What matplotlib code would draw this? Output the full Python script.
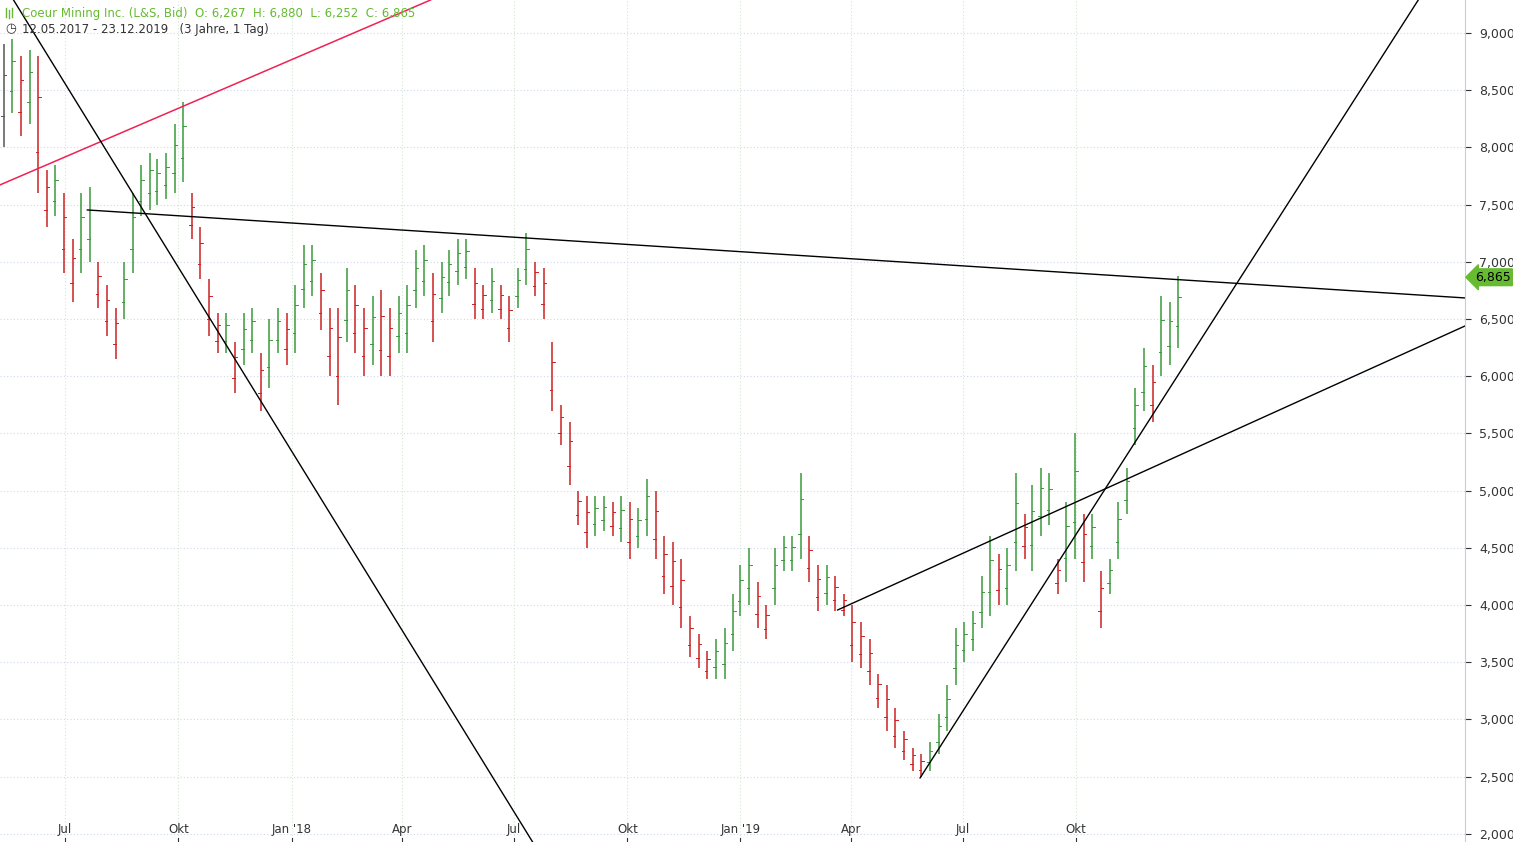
import matplotlib
matplotlib.use("Agg")
import matplotlib.pyplot as plt
import matplotlib.dates as mdates
import numpy as np
from datetime import date, timedelta

highs = [8.9,8.95,8.8,8.85,8.8,7.8,7.85,7.6,7.2,7.6,7.65,7.0,6.8,6.6,7.0,7.6,7.85,7.95,7.9,7.95,8.2,8.4,7.6,7.3,6.85,6.55,6.55,6.3,6.55,6.6,6.2,6.5,6.6,
         6.55,6.8,7.15,7.15,6.9,6.6,6.6,6.95,6.8,6.6,6.7,6.75,6.6,6.7,6.8,7.1,7.15,6.9,7.0,7.1,7.2,7.2,6.95,6.8,6.95,6.8,6.7,6.95,7.25,7.0,6.95,6.3,5.75,5.6,5.0,4.95,4.95,4.95,4.9,4.95,4.9,4.85,5.1,5.0,4.6,4.55,4.4,3.9,3.75,3.6,3.7,3.8,
         4.1,4.35,4.5,4.2,4.0,4.5,4.6,4.6,5.15,4.6,4.35,4.35,4.25,4.1,4.0,3.85,3.7,3.4,3.3,3.1,2.9,2.75,2.7,2.8,3.05,3.3,3.8,3.85,3.95,4.25,4.6,4.45,4.5,5.15,4.8,5.05,5.2,5.15,4.4,4.9,5.5,4.8,4.8,4.3,4.4,4.9,5.2,5.9,6.25,6.1,6.7,6.65,6.88]
lows = [8.0,8.3,8.1,8.2,7.6,7.3,7.4,6.9,6.65,6.9,7.0,6.6,6.35,6.15,6.5,6.9,7.4,7.45,7.5,7.55,7.6,7.7,7.2,6.85,6.35,6.2,6.2,5.85,6.1,6.2,5.7,5.9,6.2,
        6.1,6.2,6.6,6.7,6.4,6.0,5.75,6.3,6.2,6.0,6.1,6.0,6.0,6.2,6.2,6.6,6.7,6.3,6.55,6.7,6.8,6.85,6.5,6.5,6.55,6.5,6.3,6.6,6.8,6.7,6.5,5.7,5.4,5.05,4.7,4.5,4.6,4.65,4.6,4.55,4.4,4.5,4.6,4.4,4.1,4.0,3.8,3.55,3.45,3.35,3.35,3.35,
        3.6,3.9,4.0,3.8,3.7,4.0,4.3,4.3,4.4,4.2,3.95,4.0,3.95,3.9,3.5,3.45,3.3,3.1,2.9,2.75,2.65,2.55,2.5,2.55,2.7,2.9,3.3,3.5,3.6,3.8,3.9,4.0,4.0,4.3,4.4,4.3,4.6,4.7,4.1,4.2,4.4,4.2,4.4,3.8,4.1,4.4,4.8,5.4,5.7,5.6,6.0,6.1,6.25]
start = date(2017, 5, 12)
n = len(highs)
dates = [start + timedelta(days=7 * i) for i in range(n)]
if dates[-1] > date(2019, 12, 23):
    shift = (dates[-1] - date(2019, 12, 23)).days
    dates = [start + timedelta(days=round(7 * i - shift * i / (n - 1))) for i in range(n)]

# trend lines (date, price)
trend_red = [(date(2017, 5, 9), 7672), (date(2018, 4, 24), 9288)]
trend_black = [
    [(date(2017, 5, 20), 9288), (date(2018, 7, 16), 1929)],
    [(date(2017, 7, 19), 7453), (date(2020, 8, 12), 6684)],
    [(date(2019, 3, 21), 3957), (date(2020, 8, 12), 6439)],
    [(date(2019, 5, 27), 2489), (date(2020, 7, 5), 9288)],
]
month_ticks = [date(2017, 7, 1), date(2017, 10, 1), date(2018, 1, 1), date(2018, 4, 1), date(2018, 7, 1),
               date(2018, 10, 1), date(2019, 1, 1), date(2019, 4, 1), date(2019, 7, 1), date(2019, 10, 1)]
month_labels = ["Jul", "Okt", "Jan '18", "Apr", "Jul", "Okt", "Jan '19", "Apr", "Jul", "Okt"]
price_ticks = [2000, 2500, 3000, 3500, 4000, 4500, 5000, 5500, 6000, 6500, 7000, 7500, 8000, 8500, 9000]
last_price = 6865

fig = plt.figure(figsize=(15.13, 8.42), dpi=100)
ax = fig.add_axes([0, 0, 1465 / 1513, 1])
xmin, xmax = date(2017, 5, 9), date(2020, 8, 12)
ax.set_xlim(mdates.date2num(xmin), mdates.date2num(xmax))
ax.set_ylim(1929, 9288)

for i, d in enumerate(month_ticks):
    ax.axvline(mdates.date2num(d), color="#cfe8cf", lw=0.8, ls=(0, (1, 2)), zorder=0)
    ax.text(mdates.date2num(d), 1985, month_labels[i], ha="center", va="bottom", fontsize=8.5, color="#333333")
    ax.plot([mdates.date2num(d)] * 2, [1929, 1960], color="#333333", lw=0.8)
for p in price_ticks:
    c = "#f4d0d0" if p in (5000, 2500) else "#cfd8ee"
    ax.axhline(p, color=c, lw=0.8, ls=(0, (1, 2)), zorder=0)

hi = np.array(highs) * 1000
lo = np.array(lows) * 1000
mid = (hi + lo) / 2
xs = mdates.date2num(dates)
for i in range(n):
    col = "#555555"
    if i > 0:
        col = "#3a9a3a" if mid[i] >= mid[i - 1] else "#cc2222"
    ax.plot([xs[i], xs[i]], [lo[i], hi[i]], color=col, lw=1.1, solid_capstyle="butt")
    ax.plot([xs[i] - 2, xs[i]], [lo[i] + (hi[i] - lo[i]) * 0.3] * 2, color=col, lw=0.7)
    ax.plot([xs[i], xs[i] + 2], [lo[i] + (hi[i] - lo[i]) * 0.7] * 2, color=col, lw=0.7)

(a, b) = trend_red
ax.plot([mdates.date2num(a[0]), mdates.date2num(b[0])], [a[1], b[1]], color="#ee2255", lw=1.1)
for (a, b) in trend_black:
    ax.plot([mdates.date2num(a[0]), mdates.date2num(b[0])], [a[1], b[1]], color="black", lw=1.0)

for s in ax.spines.values():
    s.set_visible(False)
ax.spines["right"].set_visible(True)
ax.spines["right"].set_color("#cccccc")
ax.set_xticks([])
ax.yaxis.tick_right()
ax.set_yticks(price_ticks)
ax.set_yticklabels([f"{p:,}" for p in price_ticks], fontsize=9, color="#333333")
ax.tick_params(axis="y", length=4, color="#333333", pad=6)

ax.annotate(f"{last_price/1000:.3f}".replace(".", ","), xy=(1.0, last_price), xycoords=("axes fraction", "data"),
            xytext=(7, 0), textcoords="offset points", va="center", ha="left", fontsize=9, color="black",
            bbox=dict(boxstyle="larrow,pad=0.15", fc="#66bb33", ec="#66bb33"), annotation_clip=False)

fig.text(22 / 1513, 1 - 13 / 842, "Coeur Mining Inc. (L&S, Bid)  O: 6,267  H: 6,880  L: 6,252  C: 6,865",
         fontsize=8.5, color="#66bb33", va="center")
for k, (y0, y1) in enumerate([(8, 17), (10, 18), (8, 17)]):
    xx = (6 + 3 * k) / 1513
    fig.add_artist(plt.Line2D([xx, xx], [1 - y1 / 842, 1 - y0 / 842], color="#66bb33", lw=1))
fig.text(5 / 1513, 1 - 29 / 842, "◷", fontsize=9, color="#333333", va="center")
fig.text(22 / 1513, 1 - 29 / 842, "12.05.2017 - 23.12.2019   (3 Jahre, 1 Tag)", fontsize=8.5, color="#333333", va="center")
fig.savefig("out.png", dpi=100)
